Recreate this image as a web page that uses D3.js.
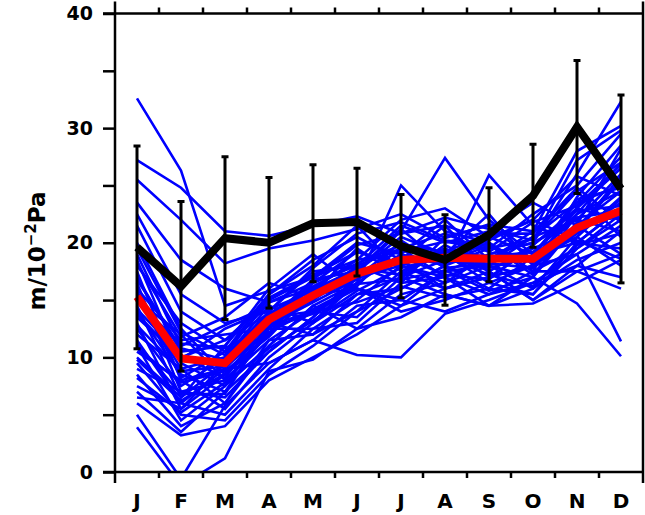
<!DOCTYPE html>
<html>
<head>
<meta charset="utf-8">
<script src="https://cdn.jsdelivr.net/npm/d3@7"></script>
<style>
  body { margin: 0; background: #fff; }
  text { font-family: "DejaVu Sans", sans-serif; font-weight: bold; }
</style>
</head>
<body>
<div id="chart"></div>
<script>
const months = ['J', 'F', 'M', 'A', 'M', 'J', 'J', 'A', 'S', 'O', 'N', 'D']
const yTicks = [0, 5, 10, 15, 20, 25, 30, 35, 40]

// ensemble members (blue)
const members = [
  [32.6, 26.3, 14.5, 15.8, 17.0, 18.5, 19.2, 20.1, 19.5, 20.3, 24.5, 27.0],
  [27.2, 24.8, 21.0, 20.6, 21.5, 22.3, 20.8, 21.5, 20.2, 22.0, 25.8, 24.1],
  [25.5, 22.0, 18.2, 19.5, 20.2, 21.2, 22.5, 20.4, 21.6, 21.0, 28.0, 30.2],
  [23.5, 18.5, 16.0, 14.8, 16.5, 19.2, 18.0, 19.5, 17.5, 19.8, 23.0, 26.5],
  [21.5, 14.0, 11.5, 13.8, 15.0, 18.0, 19.5, 17.0, 18.5, 20.5, 22.0, 21.0],
  [20.0, 12.5, 8.5, 12.0, 16.8, 17.5, 21.0, 27.4, 22.0, 19.0, 23.5, 25.0],
  [19.0, 11.0, 12.8, 14.5, 13.0, 15.5, 16.0, 18.0, 25.9, 21.5, 20.0, 19.5],
  [18.5, 9.5, 7.5, 11.0, 14.5, 16.5, 25.0, 21.0, 20.0, 17.5, 24.0, 28.5],
  [18.0, 13.0, 10.5, 15.5, 18.5, 20.5, 18.5, 16.0, 17.0, 18.0, 21.0, 23.5],
  [17.5, 8.0, 9.0, 13.0, 12.0, 14.0, 17.5, 19.0, 16.5, 15.5, 19.5, 22.0],
  [17.0, 10.5, 11.0, 16.0, 19.0, 16.0, 15.0, 17.5, 19.0, 20.0, 26.0, 32.3],
  [16.5, 7.0, 6.5, 10.5, 13.5, 17.0, 20.0, 18.5, 18.0, 16.0, 18.5, 20.0],
  [16.0, 11.5, 12.0, 12.5, 15.5, 19.5, 17.0, 15.5, 14.5, 17.0, 22.5, 27.0],
  [15.5, 9.0, 10.0, 14.0, 17.5, 18.0, 16.5, 20.5, 21.5, 18.5, 20.5, 18.0],
  [15.0, 12.0, 8.0, 11.5, 14.0, 13.5, 17.0, 19.5, 17.0, 18.0, 21.5, 24.5],
  [14.5, 6.5, 9.5, 13.5, 16.0, 18.5, 22.0, 23.0, 20.5, 19.0, 20.0, 23.0],
  [14.0, 8.5, 7.0, 12.5, 12.5, 15.0, 18.0, 17.0, 15.5, 16.5, 19.0, 21.5],
  [13.5, 10.0, 11.5, 15.0, 17.0, 20.0, 19.0, 18.0, 19.5, 22.5, 25.0, 29.5],
  [13.0, 5.5, 8.5, 12.0, 15.5, 16.0, 14.5, 17.5, 18.0, 17.0, 14.7, 10.1],
  [12.5, 7.5, 10.0, 14.5, 13.0, 17.0, 18.5, 21.5, 17.5, 15.0, 17.5, 19.0],
  [12.0, 9.0, 6.0, 11.0, 14.5, 12.5, 15.5, 16.5, 19.0, 20.0, 22.0, 26.0],
  [11.5, 6.0, 9.0, 9.5, 11.5, 10.2, 10.0, 13.8, 15.0, 16.5, 18.0, 17.0],
  [11.0, 4.5, 7.5, 13.0, 15.0, 17.5, 20.5, 19.0, 22.5, 18.0, 23.0, 22.0],
  [10.5, 8.0, 5.5, 10.0, 13.0, 16.5, 19.0, 22.0, 18.5, 21.0, 24.5, 20.5],
  [10.0, 6.5, 11.0, 15.5, 18.0, 21.5, 17.5, 16.0, 17.0, 19.5, 21.0, 25.5],
  [9.5, 5.0, 4.5, 8.5, 11.0, 14.0, 16.0, 18.0, 16.0, 15.5, 20.0, 23.0],
  [9.0, 7.0, 8.0, 12.0, 16.5, 18.0, 21.5, 20.0, 21.0, 23.5, 21.5, 19.0],
  [8.5, 4.0, 6.0, 11.5, 12.0, 15.5, 17.0, 18.5, 20.0, 17.5, 17.5, 16.0],
  [7.5, 5.5, 9.5, 13.5, 14.0, 16.0, 14.0, 15.0, 16.5, 18.0, 19.0, 11.4],
  [7.0, 3.5, 7.0, 10.5, 13.5, 17.0, 18.0, 16.5, 18.0, 20.5, 23.5, 27.5],
  [6.5, 6.0, 5.0, 9.0, 12.5, 13.0, 16.5, 17.0, 14.5, 16.0, 20.5, 24.0],
  [6.0, 3.2, 4.0, 8.0, 10.0, 12.0, 14.5, 16.0, 17.5, 15.0, 18.0, 21.0],
  [5.0, -0.6, 5.8, 9.5, 11.5, 14.5, 15.0, 14.0, 15.5, 17.5, 19.5, 22.5],
  [3.9, -1.2, 1.2, 8.8, 9.8, 12.5, 13.5, 15.5, 14.5, 14.7, 16.5, 18.5],
  [16.8, 10.8, 9.8, 13.8, 16.2, 18.2, 19.8, 19.2, 18.8, 19.2, 22.5, 24.5],
  [14.8, 11.2, 10.8, 12.8, 14.8, 16.8, 18.8, 18.2, 19.8, 18.2, 20.8, 23.8],
  [13.8, 9.8, 12.5, 14.2, 15.8, 17.8, 17.2, 19.8, 17.8, 18.8, 22.2, 22.8],
  [12.8, 8.8, 9.2, 12.2, 14.2, 16.2, 20.2, 17.8, 18.2, 17.8, 21.2, 25.8],
  [19.5, 12.2, 10.2, 15.2, 17.2, 19.2, 18.2, 19.2, 20.8, 20.8, 24.8, 21.8],
  [18.2, 11.8, 13.5, 16.5, 15.2, 16.8, 19.5, 20.8, 19.2, 21.8, 23.2, 26.8],
  [10.8, 7.8, 8.8, 11.8, 15.8, 17.2, 18.8, 17.2, 16.8, 19.8, 22.8, 23.2],
  [22.5, 15.5, 13.0, 14.0, 17.8, 20.8, 21.8, 20.2, 19.8, 17.2, 21.8, 22.2],
  [8.2, 5.2, 7.8, 10.8, 13.2, 15.8, 17.8, 18.8, 17.2, 16.2, 19.8, 20.8],
  [14.2, 10.2, 8.2, 13.2, 16.8, 19.8, 20.8, 22.2, 21.2, 20.2, 27.2, 29.8],
  [11.2, 6.8, 6.8, 12.8, 14.0, 14.8, 16.2, 15.2, 16.0, 18.8, 23.8, 24.8],
  [15.8, 8.2, 10.5, 14.8, 16.0, 17.6, 21.2, 18.0, 20.4, 22.0, 20.2, 18.6],
  [9.8, 6.2, 8.6, 12.6, 13.8, 16.4, 16.8, 17.6, 15.8, 17.0, 21.6, 28.2],
]

// ensemble mean (red)
const ensMean = [15.3, 9.9, 9.5, 13.3, 15.4, 17.3, 18.5, 18.7, 18.6, 18.6, 21.3, 22.8]

// observed (black) with +/- 1 sd bars
const obsMean = [19.6, 16.2, 20.4, 20.0, 21.7, 21.8, 19.7, 18.5, 20.7, 24.1, 30.1, 24.7]
const obsSd = [8.85, 7.4, 7.1, 5.7, 5.1, 4.7, 4.5, 3.95, 4.1, 4.5, 5.8, 8.2]

const W = 645
const H = 515
const L = 115, R = 643, T = 13.5, B = 472

const svg = d3.select('#chart').append('svg').attr('width', W).attr('height', H)

const x = d3.scaleBand().domain(d3.range(12)).range([L, R]).padding(0)
const cx = i => x(i) + x.bandwidth() / 2
const y = d3.scaleLinear().domain([0, 40]).range([B, T])

svg.append('clipPath').attr('id', 'clip')
  .append('rect').attr('x', L).attr('y', T).attr('width', R - L).attr('height', B - T)

const line = d3.line().x((d, i) => cx(i)).y(d => y(d))

const plot = svg.append('g').attr('clip-path', 'url(#clip)')

plot.selectAll('.member')
  .data(members)
  .join('path')
  .attr('class', 'member')
  .attr('d', line)
  .attr('fill', 'none')
  .attr('stroke', '#0000ff')
  .attr('stroke-width', 2.6)
  .attr('stroke-linejoin', 'miter')

plot.append('path')
  .attr('d', line(ensMean))
  .attr('fill', 'none')
  .attr('stroke', '#ff0000')
  .attr('stroke-width', 8)

// error bars
const bars = plot.append('g')
obsMean.forEach((m, i) => {
  const lo = m - obsSd[i], hi = m + obsSd[i]
  bars.append('line')
    .attr('x1', cx(i)).attr('x2', cx(i))
    .attr('y1', y(lo)).attr('y2', y(hi))
    .attr('stroke', '#000').attr('stroke-width', 3)
  ;[lo, hi].forEach(v => {
    bars.append('line')
      .attr('x1', cx(i) - 3.5).attr('x2', cx(i) + 3.5)
      .attr('y1', y(v)).attr('y2', y(v))
      .attr('stroke', '#000').attr('stroke-width', 3)
  })
})

plot.append('path')
  .attr('d', line(obsMean))
  .attr('fill', 'none')
  .attr('stroke', '#000')
  .attr('stroke-width', 8)
  .attr('stroke-linejoin', 'miter')

// frame
const frame = svg.append('g').attr('stroke', '#000').attr('stroke-width', 2.5)
frame.append('line').attr('x1', L - 12).attr('x2', R).attr('y1', T).attr('y2', T)
frame.append('line').attr('x1', L - 12).attr('x2', R).attr('y1', B).attr('y2', B)
frame.append('line').attr('x1', L).attr('x2', L).attr('y1', T - 12).attr('y2', B + 11)
frame.append('line').attr('x1', R).attr('x2', R).attr('y1', T - 12).attr('y2', B + 11)

// month boundary ticks, top and bottom
const inner = d3.range(1, 12)
frame.selectAll('.tb')
  .data(inner)
  .join('line')
  .attr('x1', i => x(i)).attr('x2', i => x(i))
  .attr('y1', B).attr('y2', B + 6)
frame.selectAll('.tt')
  .data(inner)
  .join('line')
  .attr('x1', i => x(i)).attr('x2', i => x(i))
  .attr('y1', T).attr('y2', T - 6)

// y axis
const yAxis = svg.append('g')
  .attr('transform', `translate(${L},0)`)
  .call(d3.axisLeft(y)
    .tickValues(yTicks)
    .tickSize(12)
    .tickSizeOuter(0)
    .tickPadding(10)
    .tickFormat(d => (d % 10 === 0 ? d : '')))
yAxis.select('.domain').remove()
yAxis.selectAll('.tick line').attr('stroke-width', 2.5)
yAxis.selectAll('.tick text')
  .attr('font-size', 19)
  .attr('font-family', 'DejaVu Sans')
  .attr('font-weight', 'bold')
  .attr('fill', '#000')

// month labels
const xAxis = svg.append('g')
  .attr('transform', `translate(0,${B})`)
  .call(d3.axisBottom(x).tickSize(0).tickPadding(22).tickFormat(i => months[i]))
xAxis.select('.domain').remove()
xAxis.selectAll('.tick text')
  .attr('font-size', 20)
  .attr('font-family', 'DejaVu Sans')
  .attr('font-weight', 'bold')
  .attr('fill', '#000')

// y title
const title = svg.append('text')
  .attr('transform', 'translate(45,251) rotate(-90)')
  .attr('text-anchor', 'middle')
  .attr('font-size', 23)
  .attr('fill', '#000')
title.append('tspan').text('m/10')
title.append('tspan').attr('dy', -9).attr('font-size', 15).text('\u22122')
title.append('tspan').attr('dy', 9).text('Pa')
</script>
</body>
</html>
